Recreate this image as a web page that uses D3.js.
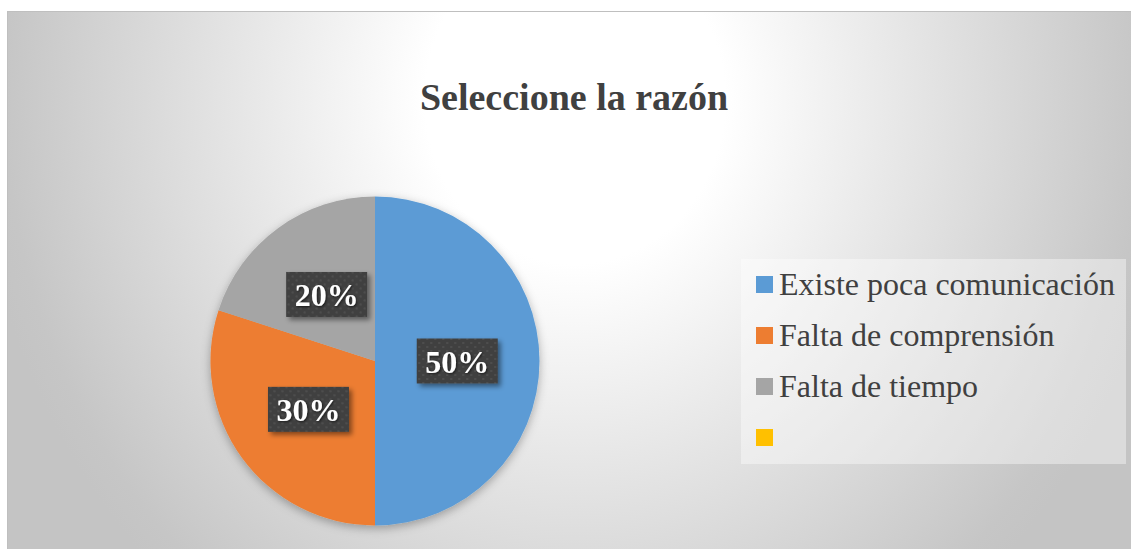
<!DOCTYPE html>
<html>
<head>
<meta charset="utf-8">
<script src="https://cdn.jsdelivr.net/npm/d3@7"></script>
<style>
  html, body { margin: 0; padding: 0; background: #fff; }
  svg { display: block; }
</style>
</head>
<body>
<script>
// chart data
const categories = ["Existe poca comunicación", "Falta de comprensión", "Falta de tiempo", ""];
const values = [50, 30, 20, 0];
const colors = ["#5B9BD5", "#ED7D31", "#A5A5A5", "#FFC000"];
const title = "Seleccione la razón";

const width = 1131, height = 549;
const serif = "'Times New Roman', 'Liberation Serif', serif";

const svg = d3.select("body").append("svg")
    .attr("width", width)
    .attr("height", height);

const defs = svg.append("defs");

// background gradient (white near top middle, gray at edges)
const grad = defs.append("radialGradient")
    .attr("id", "bg")
    .attr("gradientUnits", "userSpaceOnUse")
    .attr("cx", 0).attr("cy", 0).attr("r", 1)
    .attr("gradientTransform", "translate(575,100) scale(600,656)");
grad.append("stop").attr("offset", 0).attr("stop-color", "#ffffff");
grad.append("stop").attr("offset", 0.25).attr("stop-color", "#ffffff");
grad.append("stop").attr("offset", 0.95).attr("stop-color", "#c6c6c6");
grad.append("stop").attr("offset", 1).attr("stop-color", "#c4c4c4");

// dotted dark pattern for data labels
const pat = defs.append("pattern")
    .attr("id", "dots")
    .attr("patternUnits", "userSpaceOnUse")
    .attr("width", 8).attr("height", 8);
pat.append("rect").attr("width", 8).attr("height", 8).attr("fill", "#3f3f3f");
pat.append("circle").attr("cx", 2).attr("cy", 2).attr("r", 1.3).attr("fill", "#4e4e4e");
pat.append("circle").attr("cx", 6).attr("cy", 6).attr("r", 1.3).attr("fill", "#4e4e4e");

// soft shadows
const pieShadow = defs.append("filter").attr("id", "pieShadow")
    .attr("x", "-20%").attr("y", "-20%").attr("width", "140%").attr("height", "140%");
pieShadow.append("feDropShadow")
    .attr("dx", 0).attr("dy", 3).attr("stdDeviation", 5)
    .attr("flood-color", "#000").attr("flood-opacity", 0.3);

const boxShadow = defs.append("filter").attr("id", "boxShadow")
    .attr("x", "-30%").attr("y", "-30%").attr("width", "160%").attr("height", "160%");
boxShadow.append("feDropShadow")
    .attr("dx", 3).attr("dy", 3).attr("stdDeviation", 2.5)
    .attr("flood-color", "#000").attr("flood-opacity", 0.45);

const textShadow = defs.append("filter").attr("id", "textShadow")
    .attr("x", "-20%").attr("y", "-20%").attr("width", "140%").attr("height", "140%");
textShadow.append("feDropShadow")
    .attr("dx", 1).attr("dy", 1).attr("stdDeviation", 1)
    .attr("flood-color", "#000").attr("flood-opacity", 0.6);

// chart area
svg.append("rect")
    .attr("x", 7.5).attr("y", 11.5)
    .attr("width", width).attr("height", height)
    .attr("fill", "url(#bg)")
    .attr("stroke", "#bfbfbf")
    .attr("stroke-width", 1);

// title
svg.append("text")
    .attr("x", 574).attr("y", 110)
    .attr("text-anchor", "middle")
    .attr("font-family", serif)
    .attr("font-weight", "bold")
    .attr("font-size", 38)
    .attr("fill", "#404040")
    .text(title);

// pie
const cx = 375, cy = 361, radius = 164.5;
const pie = d3.pie().sort(null).value(d => d.value);
const data = categories.map((c, i) => ({ name: c, value: values[i], color: colors[i] }));
const arcs = pie(data);
const arc = d3.arc().innerRadius(0).outerRadius(radius);

const g = svg.append("g").attr("transform", `translate(${cx},${cy})`);

g.append("g")
    .attr("filter", "url(#pieShadow)")
    .selectAll("path")
    .data(arcs.filter(d => d.value > 0))
    .join("path")
    .attr("d", arc)
    .attr("fill", d => d.data.color);

// data labels
const labels = g.selectAll("g.lbl")
    .data(arcs.filter(d => d.value > 0))
    .join("g")
    .attr("class", "lbl")
    .attr("transform", d => `translate(${arc.centroid(d)})`);

const bw = 81, bh = 45;
labels.append("rect")
    .attr("x", -bw / 2).attr("y", -bh / 2)
    .attr("width", bw).attr("height", bh)
    .attr("fill", "url(#dots)")
    .attr("filter", "url(#boxShadow)");

const total = d3.sum(values);
labels.append("text")
    .attr("text-anchor", "middle")
    .attr("y", 11.5)
    .attr("font-family", serif)
    .attr("font-weight", "bold")
    .attr("font-size", 32)
    .attr("fill", "#ffffff")
    .attr("filter", "url(#textShadow)")
    .text(d => Math.round(d.value / total * 100) + "%");

// legend
svg.append("rect")
    .attr("x", 741).attr("y", 259)
    .attr("width", 385).attr("height", 205)
    .attr("fill", "#ffffff")
    .attr("fill-opacity", 0.4);

const legend = svg.append("g");
const rowY = d3.scaleLinear().domain([0, 3]).range([295, 448]);
const items = legend.selectAll("g")
    .data(data)
    .join("g")
    .attr("transform", (d, i) => `translate(756,${rowY(i)})`);

items.append("rect")
    .attr("x", 0).attr("y", -19)
    .attr("width", 17).attr("height", 17)
    .attr("fill", d => d.color);

items.append("text")
    .attr("x", 23).attr("y", 0)
    .attr("font-family", serif)
    .attr("font-size", 32)
    .attr("fill", "#404040")
    .text(d => d.name);
</script>
</body>
</html>
